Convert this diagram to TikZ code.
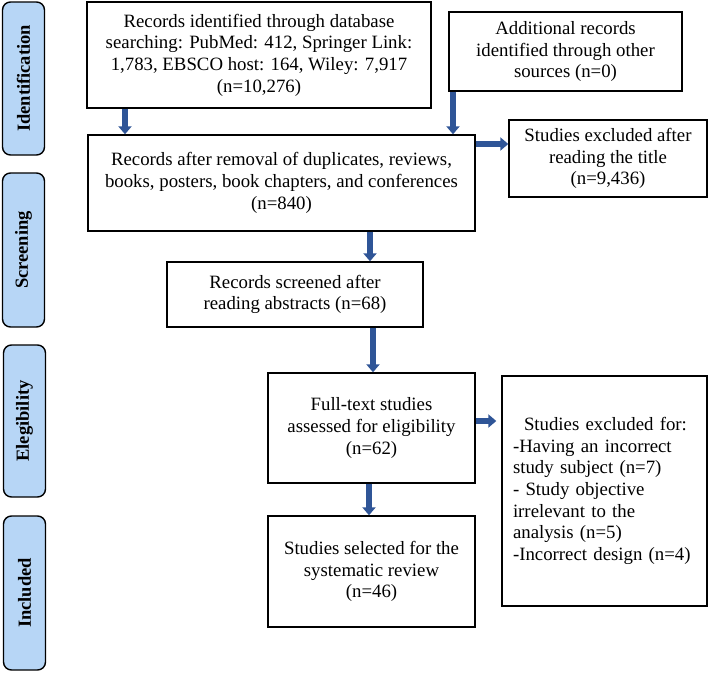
\documentclass[tikz,border=0pt]{standalone}
\usepackage{fontspec}
\setmainfont{Liberation Serif}
\usetikzlibrary{arrows.meta}
\definecolor{arrblue}{RGB}{47,85,151}
\definecolor{sidefill}{RGB}{183,214,246}
\tikzset{
  box/.style={draw=black, line width=1.4pt, fill=white, align=center, inner sep=0pt,
    font=\fontsize{18.8}{21.7}\selectfont},
  side/.style={draw=black, line width=1.4pt, fill=sidefill, rounded corners=8pt,
    minimum width=42pt, inner sep=0pt},
  sidetext/.style={rotate=90, font=\fontsize{18.5}{21}\selectfont\bfseries},
  arr/.style={draw=arrblue, line width=6pt, -{Triangle[width=13pt,length=8pt]}}
}
\begin{document}
\begin{tikzpicture}[x=1pt,y=-1pt]
\useasboundingbox (0,0) rectangle (709,672);
% side labels
\node[side, minimum height=153pt] (s1) at (23.5,78.5) {};
\node[sidetext] (t1) at (s1.center) {Identification};
\node[side, minimum height=154pt] (s2) at (23.5,250) {};
\node[sidetext] (t2) at (s2.center) {Screening};
\node[side, minimum height=152pt] (s3) at (24.5,421) {};
\node[sidetext] (t3) at (s3.center) {Elegibility};
\node[side, minimum height=154pt] (s4) at (24.5,593) {};
\node[sidetext] (t4) at (s4.center) {Included};
% boxes
\node[box, minimum width=344pt, minimum height=106pt] (b1) at (259,55)
  {Records identified through database\\searching: PubMed: 412, Springer Link:\\1,783, EBSCO host: 164, Wiley: 7,917\\(n=10,276)};
\node[box, minimum width=233pt, minimum height=79pt] (add) at (565.5,51.5)
  {Additional records\\identified through other\\sources (n=0)};
\node[box, minimum width=387pt, minimum height=96pt] (b2) at (281.5,183)
  {Records after removal of duplicates, reviews,\\books, posters, book chapters, and conferences\\(n=840)};
\node[box, minimum width=198pt, minimum height=77pt] (ex1) at (608,158.5)
  {Studies excluded after\\reading the title\\(n=9,436)};
\node[box, minimum width=256pt, minimum height=65pt] (b3) at (295,294.5)
  {Records screened after\\reading abstracts (n=68)};
\node[box, minimum width=207pt, minimum height=110pt] (b4) at (371.5,428)
  {Full-text studies\\assessed for eligibility\\(n=62)};
\node[box, minimum width=207pt, minimum height=111pt] (b5) at (371.5,571.5)
  {Studies selected for the\\systematic review\\(n=46)};
\node[box, minimum width=205pt, minimum height=230pt, text width=183pt, inner xsep=11pt, align=left] (ex2) at (604.5,491)
  {\hspace*{11pt}Studies excluded for:\\-Having an incorrect\\study subject (n=7)\\- Study objective\\irrelevant to the\\analysis (n=5)\\-Incorrect design (n=4)};
% arrow columns
\coordinate (c1) at (125,0);
\coordinate (c2) at (453,0);
\coordinate (c3) at (370,0);
\coordinate (c4) at (373,0);
\coordinate (c5) at (369,0);
\coordinate (r1) at (0,144);
\coordinate (r2) at (0,421);
% arrows
\draw[arr] (b1.south -| c1) -- (b2.north -| c1);
\draw[arr] (add.south -| c2) -- (b2.north -| c2);
\draw[arr] (b2.east |- r1) -- (ex1.west |- r1);
\draw[arr] (b2.south -| c3) -- (b3.north -| c3);
\draw[arr] (b3.south -| c4) -- (b4.north -| c4);
\draw[arr, shorten >=5pt] (b4.east |- r2) -- (ex2.west |- r2);
\draw[arr] (b4.south -| c5) -- (b5.north -| c5);
\end{tikzpicture}
\end{document}
